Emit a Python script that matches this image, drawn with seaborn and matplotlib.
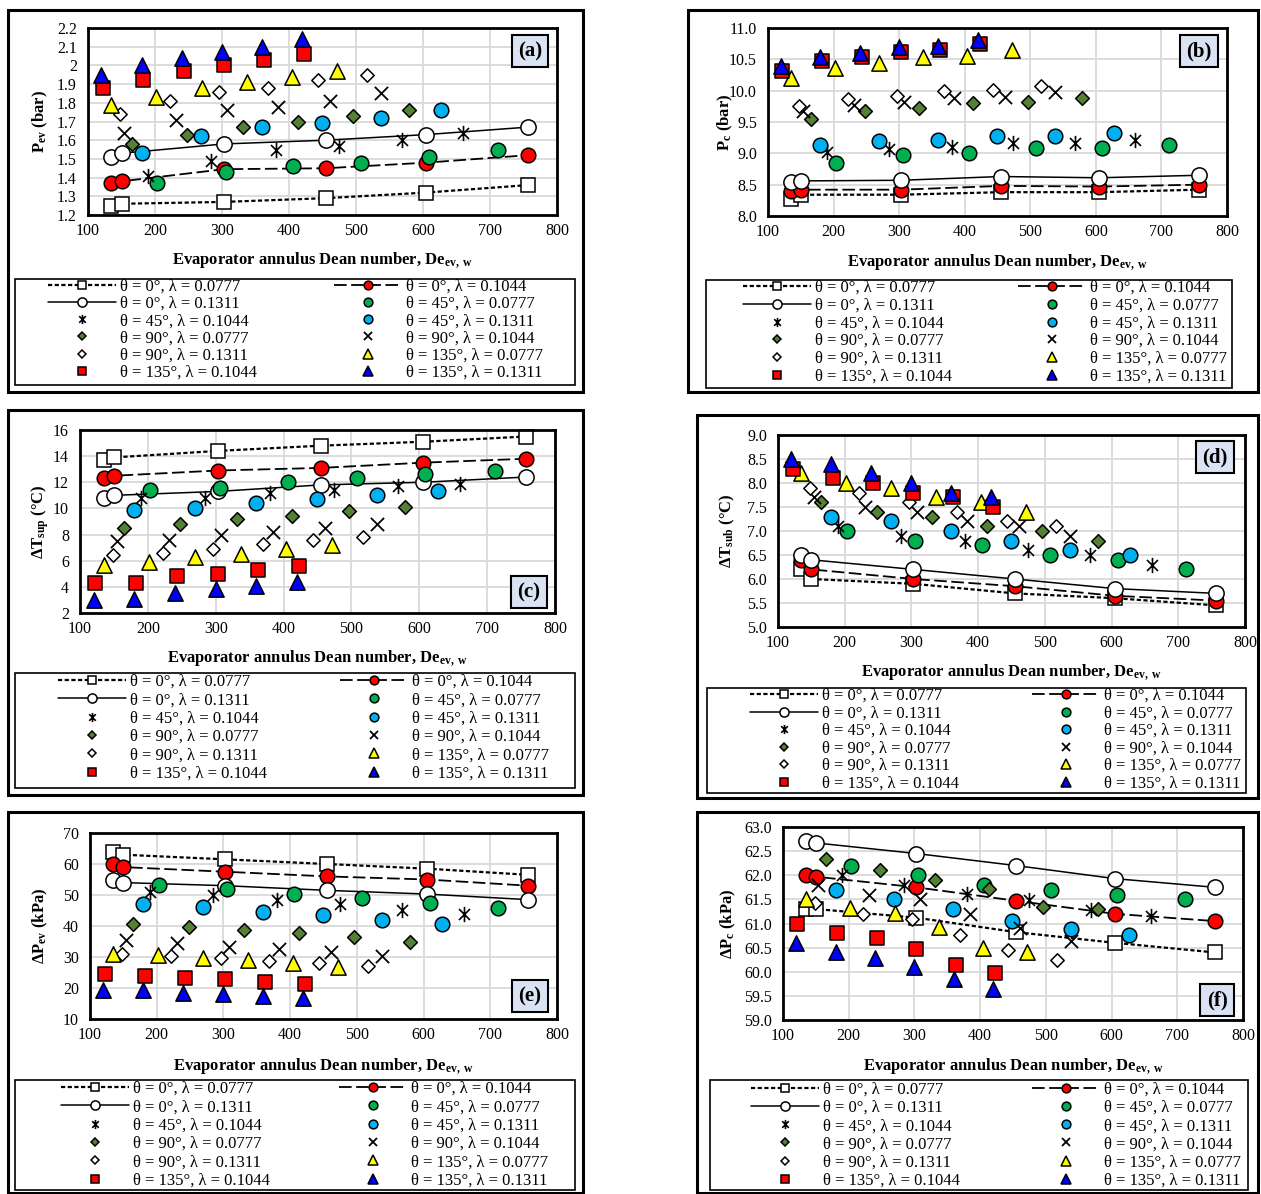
import matplotlib
matplotlib.use("Agg")
import matplotlib.pyplot as plt
from matplotlib.path import Path
from matplotlib.lines import Line2D
from matplotlib.patches import Rectangle
from matplotlib.ticker import FuncFormatter
import seaborn as sns

sns.set_theme(style="white")
plt.rcParams["font.family"] = ["Liberation Serif", "DejaVu Serif"]
plt.rcParams["mathtext.fontset"] = "custom"
plt.rcParams["mathtext.rm"] = "Liberation Serif"
plt.rcParams["mathtext.it"] = "Liberation Serif:italic"
plt.rcParams["mathtext.bf"] = "Liberation Serif:bold"
for key in ("text.color", "axes.labelcolor", "xtick.color", "ytick.color"):
    plt.rcParams[key] = "black"

# ---------------------------------------------------------------- data
# Evaporator annulus Dean number of each test configuration
de_t0 = [135, 150, 303, 455, 605, 757]          # theta = 0, all lambda
de_t45_l0777 = [203, 306, 406, 508, 609, 712]
de_t45_l1044 = [190, 284, 380, 474, 568, 660]
de_t45_l1311 = [180, 269, 359, 449, 538, 627]
de_t90_l0777 = [165, 248, 331, 413, 496, 579]
de_t90_l1044 = [154, 231, 308, 384, 461, 538]
de_t90_l1311 = [148, 222, 296, 369, 443, 517]
de_t135_l0777 = [135, 202, 270, 337, 404, 472]
de_t135_l1044 = [122, 182, 243, 303, 363, 423]
de_t135_l1311 = [120, 180, 240, 300, 360, 420]

series_labels = [
    "θ = 0°, λ = 0.0777", "θ = 0°, λ = 0.1044", "θ = 0°, λ = 0.1311",
    "θ = 45°, λ = 0.0777", "θ = 45°, λ = 0.1044", "θ = 45°, λ = 0.1311",
    "θ = 90°, λ = 0.0777", "θ = 90°, λ = 0.1044", "θ = 90°, λ = 0.1311",
    "θ = 135°, λ = 0.0777", "θ = 135°, λ = 0.1044", "θ = 135°, λ = 0.1311",
]

# (a) evaporator pressure, bar
p_ev = [
    [1.25, 1.26, 1.27, 1.29, 1.32, 1.36],
    [1.37, 1.38, 1.445, 1.45, 1.48, 1.52],
    [1.51, 1.53, 1.58, 1.60, 1.63, 1.67],
    [1.37, 1.43, 1.46, 1.48, 1.51, 1.55],
    [1.41, 1.49, 1.55, 1.57, 1.60, 1.64],
    [1.53, 1.62, 1.67, 1.69, 1.72, 1.76],
    [1.58, 1.63, 1.67, 1.70, 1.73, 1.76],
    [1.64, 1.71, 1.76, 1.78, 1.81, 1.85],
    [1.74, 1.81, 1.86, 1.88, 1.92, 1.95],
    [1.79, 1.83, 1.88, 1.91, 1.94, 1.97],
    [1.88, 1.92, 1.97, 2.00, 2.03, 2.06],
    [1.95, 2.00, 2.04, 2.07, 2.10, 2.14],
]
# (b) condenser pressure, bar
p_c = [
    [8.27, 8.34, 8.34, 8.38, 8.38, 8.42],
    [8.40, 8.42, 8.42, 8.48, 8.47, 8.50],
    [8.55, 8.56, 8.57, 8.63, 8.61, 8.65],
    [8.85, 8.98, 9.00, 9.08, 9.08, 9.13],
    [9.02, 9.07, 9.10, 9.16, 9.16, 9.22],
    [9.13, 9.19, 9.21, 9.28, 9.28, 9.33],
    [9.54, 9.68, 9.72, 9.80, 9.82, 9.88],
    [9.68, 9.77, 9.82, 9.89, 9.90, 9.98],
    [9.76, 9.86, 9.91, 9.99, 10.01, 10.08],
    [10.21, 10.36, 10.44, 10.53, 10.55, 10.65],
    [10.31, 10.47, 10.53, 10.62, 10.65, 10.74],
    [10.39, 10.54, 10.60, 10.69, 10.72, 10.81],
]
# (c) degree of superheat, deg C
dt_sup = [
    [13.7, 13.9, 14.4, 14.8, 15.1, 15.5],
    [12.3, 12.5, 12.9, 13.1, 13.5, 13.8],
    [10.8, 11.0, 11.3, 11.8, 12.0, 12.4],
    [11.4, 11.6, 12.0, 12.3, 12.6, 12.9],
    [10.8, 10.8, 11.2, 11.4, 11.7, 11.9],
    [9.9, 10.0, 10.4, 10.7, 11.0, 11.3],
    [8.5, 8.8, 9.2, 9.4, 9.8, 10.1],
    [7.5, 7.6, 8.0, 8.2, 8.5, 8.8],
    [6.4, 6.6, 6.9, 7.3, 7.6, 7.8],
    [5.7, 5.9, 6.3, 6.5, 6.9, 7.2],
    [4.3, 4.3, 4.8, 5.0, 5.3, 5.6],
    [3.0, 3.1, 3.5, 3.8, 4.1, 4.4],
]
# (d) degree of subcooling, deg C
dt_sub = [
    [6.2, 6.0, 5.9, 5.7, 5.6, 5.45],
    [6.4, 6.2, 6.0, 5.85, 5.65, 5.55],
    [6.5, 6.4, 6.2, 6.0, 5.8, 5.7],
    [7.0, 6.8, 6.7, 6.5, 6.4, 6.2],
    [7.1, 6.9, 6.8, 6.6, 6.5, 6.3],
    [7.3, 7.2, 7.0, 6.8, 6.6, 6.5],
    [7.6, 7.4, 7.3, 7.1, 7.0, 6.8],
    [7.7, 7.5, 7.4, 7.2, 7.1, 6.9],
    [7.9, 7.8, 7.6, 7.4, 7.2, 7.1],
    [8.2, 8.0, 7.9, 7.7, 7.6, 7.4],
    [8.3, 8.1, 8.0, 7.8, 7.7, 7.5],
    [8.5, 8.4, 8.2, 8.0, 7.8, 7.7],
]
# (e) evaporator pressure drop, kPa
dp_ev = [
    [64.0, 63.0, 61.5, 60.0, 58.5, 56.5],
    [60.0, 59.0, 57.5, 56.0, 55.0, 53.0],
    [55.0, 54.0, 53.0, 51.5, 50.3, 48.5],
    [53.3, 52.0, 50.3, 49.0, 47.5, 45.8],
    [51.0, 50.0, 48.3, 47.0, 45.2, 43.8],
    [47.0, 46.0, 44.5, 43.5, 42.0, 40.5],
    [40.7, 39.8, 38.6, 37.6, 36.3, 35.0],
    [35.5, 34.5, 33.3, 32.5, 31.5, 30.3],
    [31.0, 30.3, 29.6, 28.8, 28.0, 27.0],
    [31.0, 30.5, 29.7, 29.0, 28.0, 26.8],
    [24.5, 24.0, 23.3, 22.8, 22.0, 21.2],
    [19.5, 19.2, 18.5, 18.0, 17.5, 16.8],
]
# (f) condenser pressure drop, kPa
dp_c = [
    [61.30, 61.30, 61.12, 60.82, 60.60, 60.40],
    [62.00, 61.97, 61.75, 61.47, 61.20, 61.05],
    [62.70, 62.67, 62.45, 62.20, 61.93, 61.75],
    [62.20, 62.00, 61.80, 61.70, 61.60, 61.50],
    [62.00, 61.80, 61.62, 61.48, 61.28, 61.15],
    [61.70, 61.50, 61.30, 61.05, 60.88, 60.77],
    [62.33, 62.10, 61.90, 61.72, 61.35, 61.30],
    [61.80, 61.60, 61.50, 61.20, 60.90, 60.63],
    [61.43, 61.20, 61.10, 60.77, 60.45, 60.25],
    [61.50, 61.33, 61.22, 60.93, 60.50, 60.40],
    [61.00, 60.80, 60.70, 60.48, 60.15, 59.97],
    [60.60, 60.40, 60.28, 60.10, 59.85, 59.65],
]

series_de = [de_t0, de_t0, de_t0, de_t45_l0777, de_t45_l1044, de_t45_l1311,
             de_t90_l0777, de_t90_l1044, de_t90_l1311,
             de_t135_l0777, de_t135_l1044, de_t135_l1311]

# ---------------------------------------------------------------- styles
ASTERISK = Path([(0, -1), (0, 1), (-0.72, -0.72), (0.72, 0.72), (-0.72, 0.72), (0.72, -0.72)],
                [Path.MOVETO, Path.LINETO] * 3)
MEW = 1.1
STYLES = [
    dict(marker="s", fc="white", ms=10.0, ls=(0, (1.9, 1.1)), lw=1.6),
    dict(marker="o", fc="#FF0000", ms=10.5, ls=(0, (7, 2.5)), lw=1.3),
    dict(marker="o", fc="white", ms=11.0, ls="-", lw=1.1),
    dict(marker="o", fc="#00B050", ms=10.5),
    dict(marker=ASTERISK, fc="black", ms=11.0, mew=1.2),
    dict(marker="o", fc="#00B0F0", ms=10.5),
    dict(marker="D", fc="#548235", ms=7.0),
    dict(marker="x", fc="black", ms=9.5, mew=1.3),
    dict(marker="D", fc="white", ms=6.8),
    dict(marker="^", fc="#FFFF00", ms=11.0),
    dict(marker="s", fc="#FF0000", ms=10.0),
    dict(marker="^", fc="#0000FF", ms=11.0),
]

W, H, DPI = 1261, 1194, 100
fig = plt.figure(figsize=(W / DPI, H / DPI), dpi=DPI)
fig.patch.set_facecolor("white")


def rect(l, t, r, b):
    return [l / W, 1 - b / H, (r - l) / W, (b - t) / H]


def fmt_g(v, _):
    return f"{round(v, 3):g}"


def fmt_1(v, _):
    return f"{v:.1f}"


XLABEL = r"Evaporator annulus Dean number, De$_{\mathbf{ev,\ w}}$"

PANELS = [
    dict(tag="(a)", data=p_ev, ylim=(1.2, 2.2), step=0.1, fmt=fmt_g,
         ylabel=r"P$_{\mathbf{ev}}$ (bar)", axes=(88, 28, 557, 215), box=(8, 10, 583, 392),
         ylab_x=40, xlab_y=260, lab=(530, 51), leg=(15, 279, 575, 385),
         cols=(120, 406), row1=287, pitch=17.2),
    dict(tag="(b)", data=p_c, ylim=(8.0, 11.0), step=0.5, fmt=fmt_1,
         ylabel=r"P$_{\mathbf{c}}$ (bar)", axes=(768, 28, 1227, 216), box=(688, 10, 1258, 392),
         ylab_x=725, xlab_y=262, lab=(1199, 51), leg=(706, 280, 1232, 388),
         cols=(815, 1090), row1=288, pitch=17.8),
    dict(tag="(c)", data=dt_sup, ylim=(2, 16), step=2, fmt=fmt_g,
         ylabel=r"ΔT$_{\mathbf{sup}}$ (°C)", axes=(80, 430, 555, 613), box=(8, 410, 583, 795),
         ylab_x=40, xlab_y=658, lab=(529, 592), leg=(15, 673, 575, 788),
         cols=(130, 412), row1=682, pitch=18.4),
    dict(tag="(d)", data=dt_sub, ylim=(5.0, 9.0), step=0.5, fmt=fmt_1,
         ylabel=r"ΔT$_{\mathbf{sub}}$ (°C)", axes=(778, 435, 1245, 627), box=(697, 415, 1258, 798),
         ylab_x=727, xlab_y=672, lab=(1215, 457), leg=(707, 688, 1246, 793),
         cols=(822, 1104), row1=696, pitch=17.6),
    dict(tag="(e)", data=dp_ev, ylim=(10, 70), step=10, fmt=fmt_g,
         ylabel=r"ΔP$_{\mathbf{ev}}$ (kPa)", axes=(90, 833, 557, 1019), box=(8, 812, 583, 1193),
         ylab_x=40, xlab_y=1066, lab=(530, 996), leg=(15, 1080, 575, 1190),
         cols=(133, 411), row1=1089, pitch=18.4),
    dict(tag="(f)", data=dp_c, ylim=(59.0, 63.0), step=0.5, fmt=fmt_1,
         ylabel=r"ΔP$_{\mathbf{c}}$ (kPa)", axes=(783, 827, 1243, 1020), box=(697, 812, 1258, 1193),
         ylab_x=728, xlab_y=1066, lab=(1217, 1000), leg=(710, 1080, 1248, 1190),
         cols=(823, 1104), row1=1090, pitch=18.2),
]

FS_LEG = 12
FS_PX = FS_LEG * DPI / 72
HL, HTP = 4.1, 0.25
ROW_TEXT_H = 16.1   # rendered height of one legend row of text, px


def legend_handles():
    hs = []
    for st in STYLES:
        hs.append(Line2D([], [], color="black", linestyle=st.get("ls", "none"),
                         linewidth=st.get("lw", 1.0), marker=st["marker"],
                         markersize=st["ms"], markerfacecolor=st["fc"],
                         markeredgecolor="black", markeredgewidth=st.get("mew", MEW)))
    return hs


def draw_series(ax, values):
    for de, yv, st in zip(series_de, values, STYLES):
        if "ls" in st:
            sns.lineplot(x=de, y=yv, ax=ax, color="black", linestyle=st["ls"],
                         linewidth=st["lw"], marker=st["marker"], markersize=st["ms"],
                         markerfacecolor=st["fc"], markeredgecolor="black",
                         markeredgewidth=MEW, sort=False, errorbar=None,
                         legend=False, zorder=2, clip_on=False)
        else:
            kw = dict(marker=st["marker"], s=st["ms"] ** 2, color=st["fc"],
                      linewidth=st.get("mew", MEW), legend=False, zorder=3, clip_on=False)
            if st["marker"] != "x":
                kw["edgecolor"] = "black"
            sns.scatterplot(x=de, y=yv, ax=ax, **kw)


handles = legend_handles()

for pn in PANELS:
    l, t, r, b = pn["axes"]
    ax = fig.add_axes(rect(l, t, r, b))
    draw_series(ax, pn["data"])

    lo, hi = pn["ylim"]
    n = int(round((hi - lo) / pn["step"]))
    ax.set_ylim(lo, hi)
    ax.set_yticks([lo + i * pn["step"] for i in range(n + 1)])
    ax.yaxis.set_major_formatter(FuncFormatter(pn["fmt"]))
    ax.set_xlim(100, 800)
    ax.set_xticks(range(100, 801, 100))
    ax.tick_params(axis="both", length=0, labelsize=11.5)
    ax.tick_params(axis="y", pad=8)
    ax.tick_params(axis="x", pad=6)
    ax.grid(True, color="#D9D9D9", linewidth=1.3)
    ax.set_axisbelow(True)
    for sp in ax.spines.values():
        sp.set_color("black")
        sp.set_linewidth(2.0)

    ax.set_ylabel(pn["ylabel"], fontsize=12, fontweight="bold")
    ax.yaxis.label.set_va("center")
    ax.yaxis.set_label_coords((pn["ylab_x"] - l) / (r - l), 0.5)
    ax.set_xlabel(XLABEL, fontsize=12, fontweight="bold")
    ax.xaxis.label.set_va("center")
    ax.xaxis.set_label_coords(0.5, 1 - (pn["xlab_y"] - t) / (b - t))

    # panel outline
    bl, bt, br, bb = pn["box"]
    fig.patches.append(Rectangle((bl / W, 1 - bb / H), (br - bl) / W, (bb - bt) / H,
                                 transform=fig.transFigure, fill=False,
                                 edgecolor="black", linewidth=2.2, zorder=0))
    # legend frame
    gl, gt, gr, gb = pn["leg"]
    fig.patches.append(Rectangle((gl / W, 1 - gb / H), (gr - gl) / W, (gb - gt) / H,
                                 transform=fig.transFigure, fill=False,
                                 edgecolor="black", linewidth=1.2, zorder=0))
    # legend, written row by row in two columns
    lsp = max(pn["pitch"] - ROW_TEXT_H, 0.0) / FS_PX
    for col, tx in enumerate(pn["cols"]):
        idx = list(range(col, 12, 2))
        x0 = tx - (HL + HTP) * FS_PX
        y0 = pn["row1"] - ROW_TEXT_H / 2
        fig.legend([handles[i] for i in idx], [series_labels[i] for i in idx],
                   loc="upper left", bbox_to_anchor=(x0 / W, 1 - y0 / H),
                   bbox_transform=fig.transFigure, frameon=False, borderpad=0,
                   borderaxespad=0, handlelength=HL, handletextpad=HTP,
                   labelspacing=lsp, fontsize=FS_LEG, markerscale=0.6)

    # panel tag
    cx, cy = pn["lab"]
    fig.text(cx / W, 1 - cy / H, pn["tag"], ha="center", va="center", fontsize=15,
             fontweight="bold",
             bbox=dict(boxstyle="square,pad=0.3", facecolor="#DAE3F3",
                       edgecolor="black", linewidth=1.5))

fig.savefig("out.png", dpi=DPI, facecolor="white")
